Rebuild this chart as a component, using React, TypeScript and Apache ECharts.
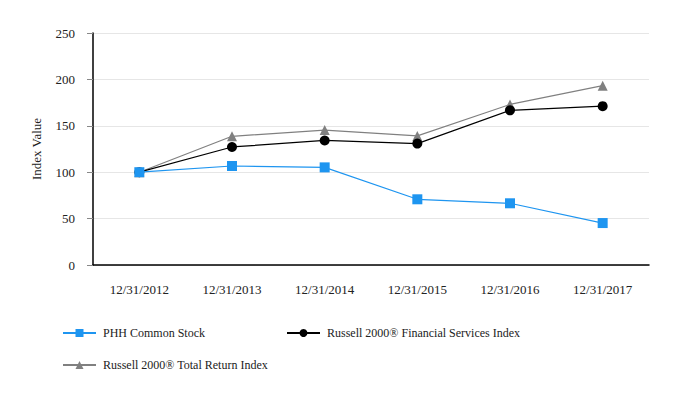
import React, { useEffect, useRef } from "react";
import * as echarts from "echarts";

const categories = ["12/31/2012", "12/31/2013", "12/31/2014", "12/31/2015", "12/31/2016", "12/31/2017"];
const phhValues = [100, 106.7, 105.2, 70.8, 66.5, 45.2];
const finValues = [100, 127.2, 134.2, 130.8, 166.7, 171.2];
const totalValues = [100, 138.7, 145.4, 139.1, 173.0, 193.2];
const seriesNames = [
  "PHH Common Stock",
  "Russell 2000® Financial Services Index",
  "Russell 2000® Total Return Index",
];

const FONT = "Liberation Serif";

export default function App() {
  const ref = useRef<HTMLDivElement>(null);
  useEffect(() => {
    if (!ref.current) return;
    const chart = echarts.init(ref.current, undefined, { renderer: "svg" });
    const legendBase = {
      itemWidth: 33,
      itemHeight: 10,
      padding: 0,
      textStyle: { fontFamily: FONT, fontSize: 12, color: "#222", padding: [0, 0, 0, 2] },
      itemGap: 8,
    };
    chart.setOption({
      animation: false,
      textStyle: { fontFamily: FONT },
      grid: { left: 93, right: 33, top: 33, bottom: 135 },
      legend: [
        { ...legendBase, data: [seriesNames[0]], left: 62, top: 327 },
        { ...legendBase, data: [seriesNames[1]], left: 286, top: 327 },
        { ...legendBase, data: [seriesNames[2]], left: 62, top: 359 },
      ],
      xAxis: {
        type: "category",
        data: categories,
        boundaryGap: true,
        axisLine: { lineStyle: { color: "#000", width: 1.5 } },
        axisTick: { alignWithLabel: true, length: 6, lineStyle: { color: "#888" } },
        axisLabel: { fontFamily: FONT, fontSize: 13, color: "#222", margin: 18 },
      },
      yAxis: {
        type: "value",
        min: 0,
        max: 250,
        interval: 50,
        name: "Index Value",
        nameLocation: "middle",
        nameGap: 50,
        nameTextStyle: { fontFamily: FONT, fontSize: 13, color: "#222" },
        axisLine: { show: true, lineStyle: { color: "#000", width: 1.5 } },
        axisTick: { show: true, length: 6, lineStyle: { color: "#888" } },
        axisLabel: { fontFamily: FONT, fontSize: 13, color: "#222", margin: 18 },
        splitLine: { lineStyle: { color: "#e6e6e6" } },
      },
      series: [
        {
          name: seriesNames[0],
          type: "line",
          data: phhValues,
          symbol: "rect",
          symbolSize: 10,
          color: "#1e95f0",
          lineStyle: { width: 1.2, color: "#1e95f0" },
          z: 4,
        },
        {
          name: seriesNames[1],
          type: "line",
          data: finValues,
          symbol: "circle",
          symbolSize: 10,
          color: "#000",
          lineStyle: { width: 1.2, color: "#000" },
          z: 3,
        },
        {
          name: seriesNames[2],
          type: "line",
          data: totalValues,
          symbol: "triangle",
          symbolSize: 10,
          color: "#808080",
          lineStyle: { width: 1.2, color: "#808080" },
          z: 2,
        },
      ],
    });
    return () => chart.dispose();
  }, []);
  return <div ref={ref} style={{ width: 682, height: 400, position: "absolute", left: 0, top: 0 }} />;
}
